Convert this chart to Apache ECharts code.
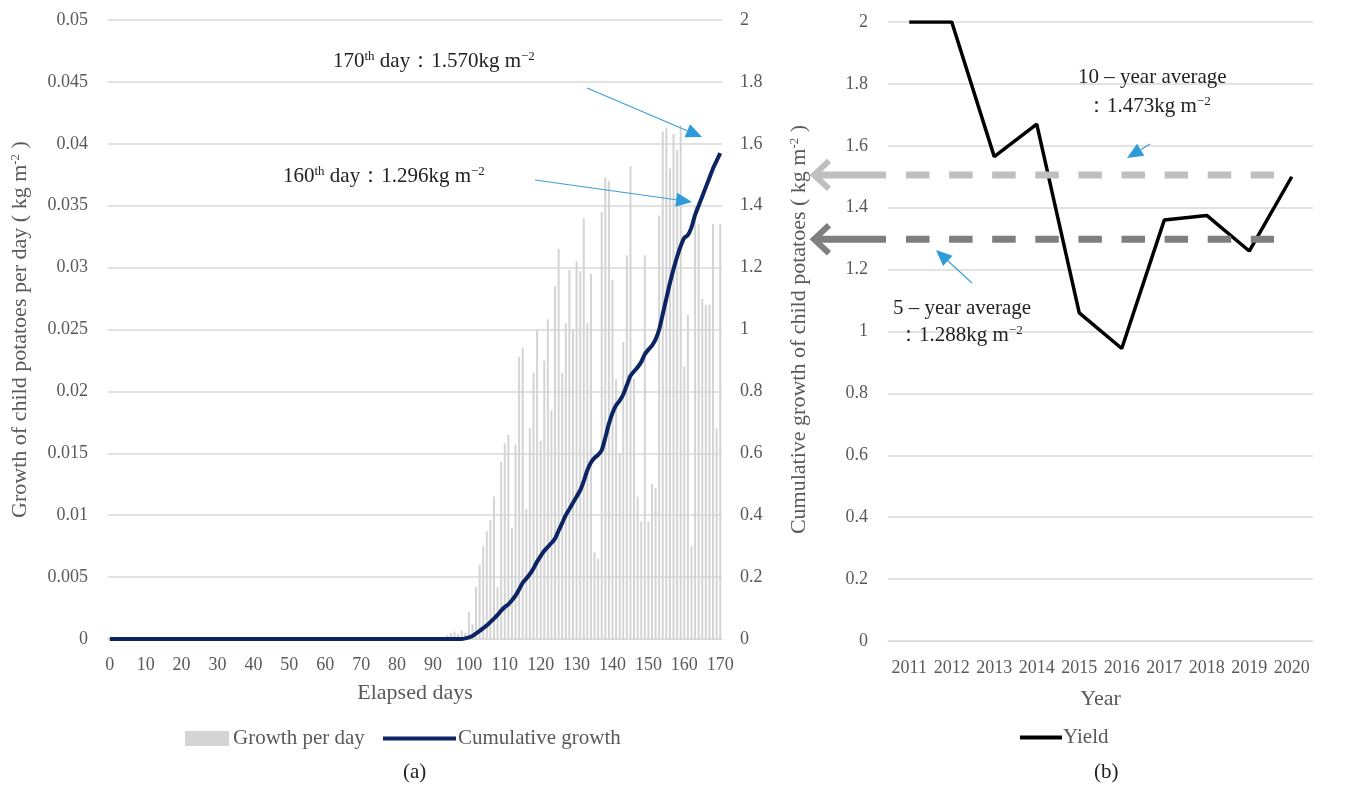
<!DOCTYPE html>
<html>
<head>
<meta charset="utf-8">
<script src="https://cdn.jsdelivr.net/npm/echarts@6/dist/echarts.min.js"></script>
<style>
html,body{margin:0;padding:0;background:#fff;}
#main{width:1372px;height:794px;}
</style>
</head>
<body>
<div id="main"></div>
<script>
var FONT = '"Liberation Serif", "DejaVu Serif", serif';

// (a) elapsed days 0..170
var dayLabels = [];
for (var i = 0; i <= 170; i++) dayLabels.push(String(i));

// growth per day (kg m-2), days 94..170 (zero before)
var growthStartDay = 94;
var growthPerDay = [
    0.0003, 0.0005, 0.0006, 0.0004, 0.0007, 0.0005,
    0.0022, 0.0012, 0.0042, 0.0060, 0.0075, 0.0087, 0.0096, 0.0115, 0.0042, 0.0143,
    0.0158, 0.0165, 0.0090, 0.0157, 0.0228, 0.0235, 0.0105, 0.0170, 0.0215, 0.0250,
    0.0160, 0.0225, 0.0258, 0.0185, 0.0285, 0.0315, 0.0215, 0.0255, 0.0298, 0.0250,
    0.0305, 0.0297, 0.0340, 0.0255, 0.0295, 0.0070, 0.0065, 0.0345, 0.0373, 0.0370,
    0.0290, 0.0210, 0.0150, 0.0240, 0.0310, 0.0382, 0.0210, 0.0115, 0.0095, 0.0310,
    0.0095, 0.0125, 0.0122, 0.0342, 0.0410, 0.0413, 0.0380, 0.0408, 0.0395, 0.0415,
    0.0220, 0.0262, 0.0075, 0.0350, 0.0335, 0.0275, 0.0270, 0.0270, 0.0335, 0.0170,
    0.0335
];

// cumulative growth (kg m-2)
var cumDays = [0, 98, 99, 100, 101, 102, 103, 104, 105, 106, 107, 108, 109, 110,
    111, 112, 113, 114, 115, 116, 117, 118, 119, 120, 121, 122, 123, 124, 125, 126,
    127, 128, 129, 130, 131, 132, 133, 134, 135, 136, 137, 138, 139, 140, 141, 142,
    143, 144, 145, 146, 147, 148, 149, 150, 151, 152, 153, 154, 155, 156, 157, 158,
    159, 160, 161, 162, 163, 164, 165, 166, 167, 168, 169, 170];
var cumGrowth = [0, 0, 0.002, 0.005, 0.010, 0.018, 0.026, 0.035, 0.044, 0.055, 0.066,
    0.078, 0.092, 0.103, 0.112, 0.125, 0.140, 0.160, 0.182, 0.195, 0.210, 0.228, 0.250,
    0.268, 0.285, 0.298, 0.310, 0.325, 0.350, 0.375, 0.400, 0.420, 0.440, 0.460, 0.480,
    0.510, 0.545, 0.570, 0.585, 0.595, 0.610, 0.650, 0.695, 0.730, 0.755, 0.770, 0.790,
    0.820, 0.850, 0.865, 0.878, 0.895, 0.920, 0.935, 0.948, 0.968, 1.000, 1.050, 1.100,
    1.150, 1.195, 1.235, 1.270, 1.296, 1.305, 1.330, 1.370, 1.400, 1.430, 1.460, 1.490,
    1.520, 1.545, 1.570];

// (b) yearly yield
var years = ['2011', '2012', '2013', '2014', '2015', '2016', '2017', '2018', '2019', '2020'];
var yieldValues = [2.0, 2.0, 1.565, 1.67, 1.06, 0.945, 1.36, 1.375, 1.26, 1.50];
// levels where the dashed average lines are drawn (10-year, 5-year)
var avgLevels = [1.506, 1.298];
var avgColors = ['#bfbfbf', '#7f7f7f'];

var grayText = '#595959';
var gridColor = '#d9d9d9';
var barColor = '#d4d4d4';
var navy = '#0c2463';

var barData = growthPerDay.map(function (v, i) { return [growthStartDay + i, v]; });
var cumData = cumGrowth.map(function (v, i) { return [cumDays[i], v]; });

var nameRich = {
    t: { fontFamily: FONT, fontSize: 22, color: grayText },
    s: { fontFamily: FONT, fontSize: 13, color: grayText, verticalAlign: 'top', padding: [0, 0, 10, 0] }
};

var myChart = echarts.init(document.getElementById('main'));

var option = {
    backgroundColor: '#fff',
    animation: false,
    textStyle: { fontFamily: FONT },
    grid: [
        { left: 108, top: 20, width: 614, height: 619 },
        { left: 888, top: 22, width: 425, height: 619 }
    ],
    xAxis: [
        {
            type: 'category', gridIndex: 0, data: dayLabels,
            name: 'Elapsed days', nameLocation: 'middle', nameGap: 43,
            nameTextStyle: { fontFamily: FONT, fontSize: 22, color: grayText },
            axisLine: { lineStyle: { color: gridColor } },
            axisTick: { show: false },
            axisLabel: { interval: 9, fontFamily: FONT, fontSize: 18, color: grayText, margin: 17 }
        },
        {
            type: 'category', gridIndex: 1, data: years,
            name: 'Year', nameLocation: 'middle', nameGap: 47,
            nameTextStyle: { fontFamily: FONT, fontSize: 22, color: grayText },
            axisLine: { lineStyle: { color: gridColor } },
            axisTick: { show: false },
            axisLabel: { interval: 0, hideOverlap: false, fontFamily: FONT, fontSize: 18, color: grayText, margin: 18 }
        }
    ],
    yAxis: [
        {
            type: 'value', gridIndex: 0, min: 0, max: 0.05, interval: 0.005,
            name: '{t|Growth of child potatoes per day ( kg m}{s|-2}{t| )}',
            nameLocation: 'middle', nameGap: 76, nameRotate: 90,
            nameTextStyle: { color: grayText, rich: nameRich },
            axisLine: { show: false }, axisTick: { show: false },
            axisLabel: { fontFamily: FONT, fontSize: 18, color: grayText, margin: 20 },
            splitLine: { lineStyle: { color: gridColor, width: 1.5 } }
        },
        {
            type: 'value', gridIndex: 0, position: 'right', min: 0, max: 2, interval: 0.2,
            name: '{t|Cumulative growth of child potatoes ( kg m}{s|-2}{t| )}',
            nameLocation: 'middle', nameGap: 66, nameRotate: 90,
            nameTextStyle: { color: grayText, rich: nameRich },
            axisLine: { show: false }, axisTick: { show: false },
            axisLabel: { fontFamily: FONT, fontSize: 18, color: grayText, margin: 18 },
            splitLine: { show: false }
        },
        {
            type: 'value', gridIndex: 1, min: 0, max: 2, interval: 0.2,
            axisLine: { show: false }, axisTick: { show: false },
            axisLabel: { fontFamily: FONT, fontSize: 18, color: grayText, margin: 20 },
            splitLine: { lineStyle: { color: gridColor, width: 1.5 } }
        }
    ],
    series: [
        {
            name: 'Growth per day', type: 'bar', xAxisIndex: 0, yAxisIndex: 0,
            barWidth: 2, itemStyle: { color: barColor },
            data: barData
        },
        {
            name: 'Cumulative growth', type: 'line', xAxisIndex: 0, yAxisIndex: 1,
            symbol: 'none', smooth: 0.2,
            lineStyle: { color: navy, width: 4 }, itemStyle: { color: navy },
            data: cumData, z: 5
        },
        {
            name: 'Yield', type: 'line', xAxisIndex: 1, yAxisIndex: 2,
            symbol: 'none',
            lineStyle: { color: '#000', width: 3.5 }, itemStyle: { color: '#000' },
            data: yieldValues, z: 5
        }
    ]
};
myChart.setOption(option);

// annotations, dashed average lines, blue arrows, legends
function blueArrow(x1, y1, x2, y2) {
    var ang = Math.atan2(y2 - y1, x2 - x1), L = 16, W = 7;
    var bx = x2 - L * Math.cos(ang), by = y2 - L * Math.sin(ang);
    var px = -Math.sin(ang) * W, py = Math.cos(ang) * W;
    return [
        { type: 'line', shape: { x1: x1, y1: y1, x2: bx, y2: by }, style: { stroke: '#3d9fd8', lineWidth: 1.2 }, z: 20 },
        { type: 'polygon', shape: { points: [[x2, y2], [bx + px, by + py], [bx - px, by - py]] }, style: { fill: '#2e9bd8' }, z: 20 }
    ];
}
function label(x, y, text) {
    return { type: 'text', left: x, top: y, z: 30, style: { text: text, rich: rt, fill: '#222', font: '21px ' + FONT } };
}
var rt = {
    n: { fontFamily: FONT, fontSize: 21, color: '#222' },
    s: { fontFamily: FONT, fontSize: 13, color: '#222', verticalAlign: 'top', padding: [0, 0, 9, 0] }
};

var g = [];
g.push(label(333, 50, '{n|170}{s|th}{n| day：1.570kg m}{s|−2}'));
g.push(label(283, 165, '{n|160}{s|th}{n| day：1.296kg m}{s|−2}'));
g = g.concat(blueArrow(587, 88, 702, 137));
g = g.concat(blueArrow(535, 180, 692, 202));

g.push(label(1078, 67, '{n|10 – year average}'));
g.push(label(1086, 95, '{n|：1.473kg m}{s|−2}'));
g.push(label(893, 298, '{n|5 – year average}'));
g.push(label(898, 324, '{n|：1.288kg m}{s|−2}'));
g = g.concat(blueArrow(1150, 144, 1127, 158));
g = g.concat(blueArrow(972, 283, 936, 250));

var gridLeft = 888;
avgLevels.forEach(function (lv, k) {
    var y = myChart.convertToPixel({ yAxisIndex: 2 }, lv);
    var c = avgColors[k];
    var x0 = gridLeft - 74;
    g.push({ type: 'polyline', shape: { points: [[x0 + 15, y - 14], [x0, y], [x0 + 15, y + 14]] }, style: { stroke: c, lineWidth: 6, fill: null, lineJoin: 'miter' }, z: 10 });
    g.push({ type: 'line', shape: { x1: x0 + 2, y1: y, x2: x0 + 72, y2: y }, style: { stroke: c, lineWidth: 7 }, z: 10 });
    g.push({ type: 'line', shape: { x1: x0 + 92, y1: y, x2: 1274, y2: y }, style: { stroke: c, lineWidth: 7, lineDash: [23.5, 19.6] }, z: 10 });
});

// legends
var legendFont = '21px ' + FONT;
g.push({ type: 'rect', shape: { x: 185, y: 731, width: 44, height: 15 }, style: { fill: barColor } });
g.push({ type: 'text', left: 233, top: 728, style: { text: 'Growth per day', font: legendFont, fill: grayText } });
g.push({ type: 'line', shape: { x1: 383, y1: 738.5, x2: 456, y2: 738.5 }, style: { stroke: navy, lineWidth: 4 } });
g.push({ type: 'text', left: 458, top: 728, style: { text: 'Cumulative growth', font: legendFont, fill: grayText } });
g.push({ type: 'line', shape: { x1: 1020, y1: 737.5, x2: 1062, y2: 737.5 }, style: { stroke: '#000', lineWidth: 4 } });
g.push({ type: 'text', left: 1063, top: 727, style: { text: 'Yield', font: legendFont, fill: grayText } });

g.push({ type: 'text', left: 403, top: 762, style: { text: '(a)', font: '21px ' + FONT, fill: '#222' } });
g.push({ type: 'text', left: 1094, top: 762, style: { text: '(b)', font: '21px ' + FONT, fill: '#222' } });

myChart.setOption({ graphic: g });
</script>
</body>
</html>
